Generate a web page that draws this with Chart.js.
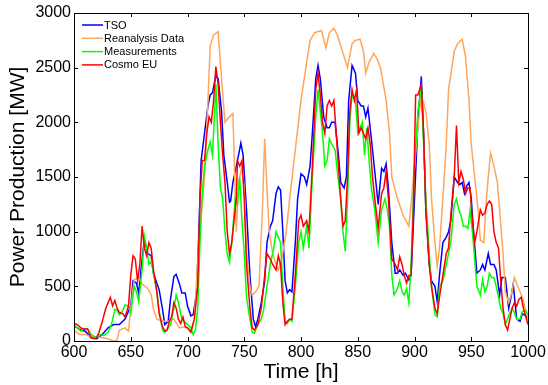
<!DOCTYPE html>
<html>
<head>
<meta charset="utf-8">
<script src="https://cdn.jsdelivr.net/npm/chart.js@4"></script>
<style>
  html, body { margin: 0; padding: 0; background: #fff; }
  #wrap { width: 548px; height: 385px; }
</style>
</head>
<body>
<div id="wrap"><canvas id="chart"></canvas></div>
<script>
const seriesNames = ['TSO', 'Reanalysis Data', 'Measurements', 'Cosmo EU'];
const seriesColors = ['#0000ff', '#ffa65c', '#00ff00', '#ff0000'];

const tsoHours = [600,605,610,615,620,625,630,635,640,645,650,652,655,657,660,662,665,668,670,675,678,680,683,685,688,690,693,695,698,700,703,705,708,710,712,715,718,720,722,725,727,730,732,735,737,738,740,742,745,747,749,752,755,758,760,762,765,768,770,773,775,778,780,782,784,786,788,790,792,795,797,800,803,805,808,810,813,815,817,820,823,825,827,830,833,835,838,840,842,845,848,850,853,855,857,859,862,865,868,871,873,875,877,880,883,885,887,890,892,895,897,900,903,906,908,910,913,915,918,920,922,925,928,930,932,935,938,940,942,944,946,948,950,952,955,958,960,962,965,967,970,972,975,977,980,983,985,987,990,993,995,998,1000];
const tsoMW = [140,105,90,30,20,60,120,150,150,200,320,550,530,440,750,930,800,780,620,470,290,150,180,380,590,610,520,440,440,320,230,240,440,990,1650,1900,2150,2250,2270,2430,2400,2100,1700,1450,1270,1280,1450,1550,1700,1810,1700,1200,600,200,130,200,350,550,900,1050,1100,1350,1410,1380,1000,550,440,470,450,900,1300,1530,1500,1430,1600,1900,2400,2520,2400,2050,1950,1950,2000,2000,1700,1450,1400,1500,2200,2520,2450,2200,2150,2150,2050,2130,1850,1550,1250,1580,1550,1620,1400,900,620,620,650,600,620,560,600,1300,2000,2420,1900,1200,700,550,500,360,600,900,950,1000,1100,1500,1450,1430,1450,1350,1420,1450,1300,1000,620,650,700,650,800,700,700,650,420,580,580,300,400,520,200,180,250,230,200];

const reaHours = [600,605,610,615,620,625,630,635,638,640,645,648,650,653,657,660,665,668,670,673,678,683,688,693,698,703,706,710,715,718,720,723,727,730,733,737,740,743,745,748,750,752,755,757,760,763,766,768,770,772,775,778,780,783,787,790,795,800,805,808,812,818,822,825,829,832,838,841,845,848,852,855,857,860,864,867,870,875,878,880,885,890,895,897,900,903,906,910,913,915,918,920,922,925,928,930,935,938,942,945,948,950,953,956,958,961,963,965,967,970,973,975,978,980,983,986,988,991,995,1000];
const reaMW = [100,60,60,40,40,30,20,0,10,100,120,90,300,560,580,520,480,420,300,200,180,180,200,120,130,100,200,900,1500,2200,2700,2800,2830,2400,2000,2050,2080,1000,1450,1600,1400,800,500,420,450,500,1200,1850,1400,1000,800,700,650,750,1000,1300,1750,2200,2550,2750,2820,2840,2680,2820,2860,2800,2600,2500,2720,2750,2760,2650,2450,2550,2630,2580,2500,2200,1900,1500,1300,1150,1050,1250,1600,1950,2250,2100,1800,1300,900,680,850,1300,1800,2300,2650,2720,2760,2600,2200,1800,1500,1200,920,900,1250,1500,1720,1600,1450,1200,800,450,350,450,580,500,400,200];

const measHours = [600,603,606,609,612,615,618,620,623,626,630,633,636,638,640,643,645,648,650,653,655,657,660,662,664,666,668,670,673,675,678,680,682,685,688,690,692,695,698,700,703,705,707,709,711,713,715,718,720,722,723,725,727,729,731,733,735,737,739,742,744,746,748,750,752,755,757,759,762,765,767,770,773,776,778,780,782,784,786,788,790,792,795,798,800,802,805,807,810,813,815,817,819,821,823,825,827,830,832,835,837,839,841,843,845,848,850,852,854,856,858,860,862,865,868,871,874,876,878,880,882,885,887,889,891,893,895,897,900,903,906,908,910,913,915,918,920,922,925,928,930,932,935,937,939,941,943,945,947,949,951,953,955,958,960,962,964,966,968,970,972,974,976,978,980,983,986,988,990,993,995,998,1000];
const measMW = [150,120,90,110,110,60,40,40,60,50,80,150,290,280,240,280,330,320,250,500,450,360,650,960,850,700,730,620,450,280,100,80,100,150,300,420,350,200,170,150,120,60,100,300,900,1350,1600,1750,1820,1700,1900,2350,1800,1400,1300,1000,800,720,900,1300,1250,1500,1100,800,400,200,80,70,150,200,280,500,700,850,1000,950,900,500,180,160,200,180,500,900,1000,850,1050,850,1500,2050,2300,2100,1900,1600,1650,1850,1800,1750,1550,1300,1000,820,1300,2000,2250,2200,1900,1950,2000,1700,1950,1650,1400,1200,900,1200,1300,1200,1050,600,420,480,550,450,420,480,350,700,1600,2100,2330,1800,1300,800,500,240,220,500,550,700,800,900,1250,1300,1200,1150,1050,1050,1030,1200,1000,750,500,420,560,450,500,620,580,580,500,400,300,250,150,230,300,260,200,200,270,280,240];

const cosmoHours = [600,603,606,609,612,615,618,620,622,625,628,630,632,634,636,638,640,643,645,648,650,652,654,656,658,660,662,664,666,668,670,673,675,678,680,682,684,686,688,690,692,694,696,698,700,703,706,709,711,713,715,717,719,721,723,725,727,729,731,733,735,737,739,741,743,744,746,748,750,752,755,757,759,762,765,768,770,773,775,778,780,782,784,786,788,790,792,795,798,800,802,805,807,810,813,815,817,819,821,823,825,827,829,831,833,835,837,839,841,843,845,847,849,851,853,855,857,859,861,863,865,868,871,873,875,877,880,883,885,887,889,891,893,895,897,899,901,903,906,908,910,913,915,918,920,922,925,928,930,932,935,937,939,941,943,945,947,949,951,953,955,958,960,962,964,966,968,970,972,974,976,978,980,982,984,986,988,990,992,994,996,1000];
const cosmoMW = [160,150,120,110,110,30,20,30,80,180,300,350,400,320,370,300,260,250,220,320,600,780,750,550,700,1050,850,780,900,850,650,450,250,130,90,100,180,220,350,300,200,160,220,130,120,80,200,500,1300,1650,1650,1900,2050,2000,2200,2510,2350,2000,1700,1450,1000,800,900,1100,1300,1650,1600,1650,1300,700,300,120,100,150,300,600,800,750,700,650,780,700,350,150,180,200,200,600,1100,1150,1050,1100,1000,1600,2300,2450,2250,2000,1900,2150,2200,2150,2200,1900,1600,1300,1050,1100,1500,2100,2300,2200,2300,1900,1950,1900,1850,1950,1800,1500,1300,1030,1350,1400,1550,1300,750,700,650,770,700,600,530,600,600,1200,2250,2250,2350,1900,1200,700,500,300,250,400,600,800,850,1150,1500,1970,1450,1550,1480,1350,1400,1400,1100,900,1000,1200,1150,1170,1250,1280,1250,1000,900,850,550,300,150,100,200,300,350,320,380,400,300,150];

const xTicks = [600, 650, 700, 750, 800, 850, 900, 950, 1000];
const yTicks = [0, 500, 1000, 1500, 2000, 2500, 3000];

const seriesHours = [tsoHours, reaHours, measHours, cosmoHours];
const seriesMW = [tsoMW, reaMW, measMW, cosmoMW];

function toPoints(hours, mw) {
    return hours.map((h, i) => ({ x: h, y: mw[i] }));
}

const FONT = "'Liberation Sans', Arial, sans-serif";

// MATLAB style box with inward ticks on all four sides
const boxPlugin = {
    id: 'boxTicks',
    afterDatasetsDraw(chart) {
        const ctx = chart.ctx;
        const a = chart.chartArea;
        const xs = chart.scales.x;
        const ys = chart.scales.y;
        const len = 4;
        ctx.save();
        ctx.strokeStyle = '#000';
        ctx.lineWidth = 1;
        ctx.beginPath();
        xTicks.forEach(v => {
            const px = Math.round(xs.getPixelForValue(v)) + 0.5;
            ctx.moveTo(px, a.bottom); ctx.lineTo(px, a.bottom - len);
            ctx.moveTo(px, a.top); ctx.lineTo(px, a.top + len);
        });
        yTicks.forEach(v => {
            const py = Math.round(ys.getPixelForValue(v)) + 0.5;
            ctx.moveTo(a.left, py); ctx.lineTo(a.left + len, py);
            ctx.moveTo(a.right, py); ctx.lineTo(a.right - len, py);
        });
        ctx.stroke();
        ctx.strokeRect(Math.round(a.left) + 0.5, Math.round(a.top) + 0.5,
            Math.round(a.right - a.left), Math.round(a.bottom - a.top));
        ctx.restore();
    }
};

// legend inside the plot, top left
const legendPlugin = {
    id: 'insideLegend',
    afterDraw(chart) {
        const ctx = chart.ctx;
        const a = chart.chartArea;
        ctx.save();
        ctx.font = '11px ' + FONT;
        ctx.textBaseline = 'middle';
        ctx.fillStyle = '#000';
        seriesNames.forEach((name, i) => {
            const y = a.top + 12 + i * 13.3;
            ctx.strokeStyle = seriesColors[i];
            ctx.lineWidth = 1.5;
            ctx.beginPath();
            ctx.moveTo(a.left + 8, y);
            ctx.lineTo(a.left + 29, y);
            ctx.stroke();
            ctx.fillText(name, a.left + 30, y + 0.5);
        });
        ctx.restore();
    }
};

function loadGraph() {
    const datasets = seriesNames.map((name, i) => ({
        label: name,
        data: toPoints(seriesHours[i], seriesMW[i]),
        borderColor: seriesColors[i],
        backgroundColor: seriesColors[i],
        borderWidth: 1.5,
        pointRadius: 0,
        tension: 0,
        fill: false,
        order: 4 - i
    }));

    const config = {
        type: 'line',
        data: { datasets: datasets },
        options: {
            responsive: true,
            maintainAspectRatio: false,
            animation: false,
            layout: { padding: { top: 13, right: 20, left: 0, bottom: 0 } },
            scales: {
                x: {
                    type: 'linear',
                    min: 600,
                    max: 1000,
                    afterBuildTicks: s => { s.ticks = xTicks.map(v => ({ value: v })); },
                    afterFit: s => { s.height = 44; },
                    grid: { display: false, drawTicks: false },
                    border: { display: false },
                    ticks: {
                        color: '#000',
                        padding: 2,
                        maxRotation: 0,
                        callback: v => String(v),
                        font: { family: FONT, size: 16 }
                    },
                    title: {
                        display: true,
                        text: 'Time [h]',
                        color: '#000',
                        padding: { top: 0, bottom: 0 },
                        font: { family: FONT, size: 21 }
                    }
                },
                y: {
                    type: 'linear',
                    min: 0,
                    max: 3000,
                    afterBuildTicks: s => { s.ticks = yTicks.map(v => ({ value: v })); },
                    afterFit: s => { s.width = 74; },
                    grid: { display: false, drawTicks: false },
                    border: { display: false },
                    ticks: {
                        color: '#000',
                        padding: 3,
                        callback: v => String(v),
                        font: { family: FONT, size: 16 }
                    },
                    title: {
                        display: true,
                        text: 'Power Production [MW]',
                        color: '#000',
                        padding: { top: 6, bottom: 0 },
                        font: { family: FONT, size: 21 }
                    }
                }
            },
            plugins: {
                legend: { display: false },
                tooltip: { enabled: false },
                title: { display: false }
            }
        },
        plugins: [boxPlugin, legendPlugin]
    };

    const ctx = document.getElementById('chart').getContext('2d');
    new Chart(ctx, config);
}

document.addEventListener('DOMContentLoaded', function () {
    loadGraph();
});
</script>
</body>
</html>
